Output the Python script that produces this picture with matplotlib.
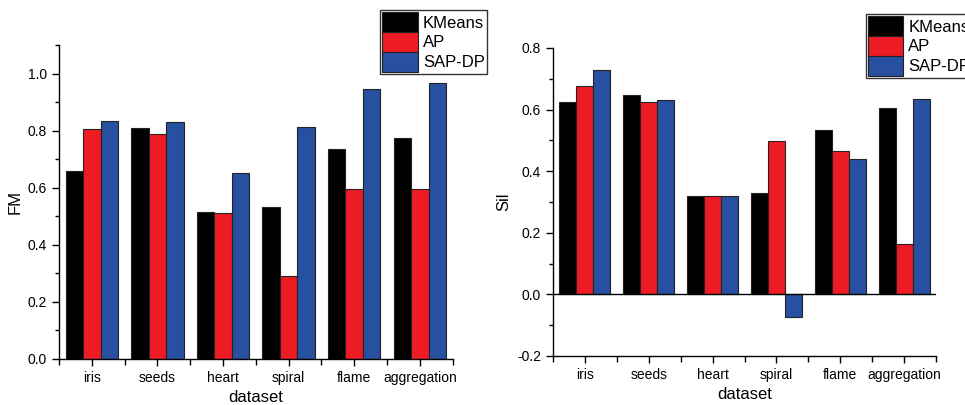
import matplotlib
matplotlib.use('Agg')
import matplotlib.pyplot as plt
from matplotlib.ticker import MultipleLocator, FixedLocator
import numpy as np

plt.rcParams['font.family'] = ['Liberation Sans', 'DejaVu Sans']

datasets = ['iris', 'seeds', 'heart', 'spiral', 'flame', 'aggregation']
methods = ['KMeans', 'AP', 'SAP-DP']
colors = ['#000000', '#ED1C24', '#2850A0']

fm_kmeans = [0.660, 0.808, 0.516, 0.532, 0.737, 0.775]
fm_ap = [0.807, 0.788, 0.513, 0.290, 0.595, 0.595]
fm_sapdp = [0.832, 0.830, 0.650, 0.812, 0.946, 0.968]

sil_kmeans = [0.625, 0.646, 0.319, 0.328, 0.533, 0.605]
sil_ap = [0.678, 0.626, 0.318, 0.498, 0.465, 0.162]
sil_sapdp = [0.730, 0.630, 0.319, -0.072, 0.439, 0.634]

fig = plt.figure(figsize=(9.65, 4.05), dpi=100)
ax1 = fig.add_axes([0.0611, 0.1136, 0.4079, 0.7753])
ax2 = fig.add_axes([0.5731, 0.121, 0.3969, 0.7605])


def draw(ax, series, ylabel, ylim, legend_pos):
    x = np.arange(len(datasets))
    w = 0.8 / 3
    bars = []
    for i, vals in enumerate(series):
        b = ax.bar(x + (i - 1) * w, vals, width=w, color=colors[i],
                   edgecolor='#222222', linewidth=0.8, label=methods[i], zorder=2)
        bars.append(b)
    ax.set_xlim(-0.5, len(datasets) - 0.5)
    ax.set_ylim(*ylim)
    ax.set_xticks(x)
    ax.set_xticklabels(datasets, fontsize=10)
    ax.xaxis.set_minor_locator(FixedLocator(np.arange(-0.5, len(datasets), 1.0)))
    ax.yaxis.set_major_locator(MultipleLocator(0.2))
    ax.yaxis.set_minor_locator(MultipleLocator(0.1))
    ax.yaxis.set_major_formatter(matplotlib.ticker.FormatStrFormatter('%.1f'))
    ax.tick_params(axis='both', which='major', direction='out', length=5, width=1, labelsize=10)
    ax.tick_params(axis='both', which='minor', direction='out', length=3, width=1)
    ax.tick_params(axis='x', which='minor', length=4)
    for s in ['top', 'right']:
        ax.spines[s].set_visible(False)
    for s in ['left', 'bottom']:
        ax.spines[s].set_linewidth(1.0)
    ax.set_xlabel('dataset', fontsize=12, labelpad=4)
    ax.set_ylabel(ylabel, fontsize=12)
    leg = fig.legend(handles=bars, labels=methods, loc='upper left',
                     bbox_to_anchor=legend_pos, fontsize=12, frameon=True,
                     fancybox=False, edgecolor='black', handlelength=2.15,
                     handleheight=1.45, handletextpad=0.3, labelspacing=0.0,
                     borderpad=0.12, borderaxespad=0.0)
    leg.get_frame().set_linewidth(1.0)


draw(ax1, [fm_kmeans, fm_ap, fm_sapdp], 'FM', (0, 1.1), (0.394, 0.975))
draw(ax2, [sil_kmeans, sil_ap, sil_sapdp], 'Sil', (-0.2, 0.8), (0.897, 0.965))
ax2.axhline(0, color='black', linewidth=1.0, zorder=3)

fig.savefig('out.png', dpi=100)
